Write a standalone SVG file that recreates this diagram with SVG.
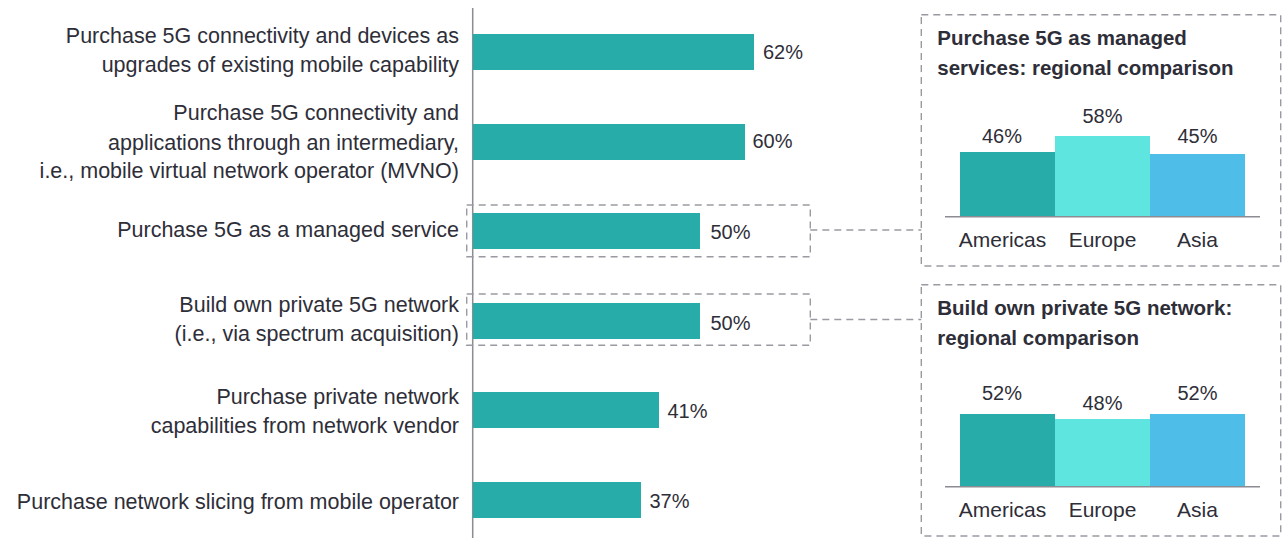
<svg xmlns="http://www.w3.org/2000/svg" width="1282" height="538" viewBox="0 0 1282 538">
<style>
text{font-family:"Liberation Sans",Arial,sans-serif;fill:#2e2e38}
.lbl{font-size:21.5px;text-anchor:end}
.val{font-size:20px}
.ttl{font-size:20.5px;font-weight:bold}
.cat{font-size:21px;text-anchor:middle}
.pct{font-size:20px;text-anchor:middle}
.bar{fill:#27aca9}
.am{fill:#27aca9}
.eu{fill:#5ee5df}
.as{fill:#4ebee8}
.dash{fill:none;stroke:#9a9aa2;stroke-width:1.4;stroke-dasharray:7 5}
.axis{stroke:#8c8c94;stroke-width:1.5}
</style>
<rect width="1282" height="538" fill="#ffffff"/>
<line class="axis" x1="472.7" y1="8" x2="472.7" y2="538"/>

<g id="row1">
<text class="lbl" x="459" y="43">Purchase 5G connectivity and devices as</text>
<text class="lbl" x="459" y="72">upgrades of existing mobile capability</text>
<rect class="bar" x="473" y="34" width="281" height="36"/>
<text class="val" x="763" y="59">62%</text>
</g>
<g id="row2">
<text class="lbl" x="459" y="120">Purchase 5G connectivity and</text>
<text class="lbl" x="459" y="149.5">applications through an intermediary,</text>
<text class="lbl" x="459" y="178">i.e., mobile virtual network operator (MVNO)</text>
<rect class="bar" x="473" y="124" width="272" height="36"/>
<text class="val" x="752.5" y="147.5">60%</text>
</g>
<g id="row3">
<text class="lbl" x="459" y="237">Purchase 5G as a managed service</text>
<rect class="dash" x="466.7" y="205" width="343.6" height="51.7"/>
<rect class="bar" x="473" y="213" width="227" height="36"/>
<text class="val" x="710.5" y="239">50%</text>
</g>
<g id="row4">
<text class="lbl" x="459" y="312">Build own private 5G network</text>
<text class="lbl" x="459" y="341">(i.e., via spectrum acquisition)</text>
<rect class="dash" x="466.7" y="294" width="343.6" height="51.3"/>
<rect class="bar" x="473" y="303" width="227" height="36"/>
<text class="val" x="710.5" y="329.5">50%</text>
</g>
<g id="row5">
<text class="lbl" x="459" y="404">Purchase private network</text>
<text class="lbl" x="459" y="433">capabilities from network vendor</text>
<rect class="bar" x="473" y="392" width="186" height="36"/>
<text class="val" x="667.5" y="418">41%</text>
</g>
<g id="row6">
<text class="lbl" x="459" y="508.5">Purchase network slicing from mobile operator</text>
<rect class="bar" x="473" y="482" width="168" height="36"/>
<text class="val" x="649.5" y="507.5">37%</text>
</g>

<g id="connectors">
<line class="dash" x1="810.3" y1="230" x2="921.3" y2="230"/>
<line class="dash" x1="810.3" y1="319.5" x2="921.3" y2="319.5"/>
</g>

<g id="panel-managed">
<rect class="dash" x="921.3" y="14.7" width="359.4" height="251.3"/>
<text class="ttl" x="937.3" y="45">Purchase 5G as managed</text>
<text class="ttl" x="937.3" y="75">services: regional comparison</text>
<rect class="am" x="960" y="152" width="95" height="64.7"/>
<rect class="eu" x="1055" y="136" width="95" height="80.7"/>
<rect class="as" x="1150" y="154" width="95" height="62.7"/>
<line class="axis" x1="945" y1="216.7" x2="1260" y2="216.7"/>
<text class="pct" x="1002" y="142.7">46%</text>
<text class="pct" x="1102.5" y="123.3">58%</text>
<text class="pct" x="1197.5" y="143.3">45%</text>
<text class="cat" x="1002.5" y="246.7">Americas</text>
<text class="cat" x="1102.5" y="246.7">Europe</text>
<text class="cat" x="1197.5" y="246.7">Asia</text>
</g>

<g id="panel-private">
<rect class="dash" x="921.3" y="284.7" width="359.4" height="251.3"/>
<text class="ttl" x="937.3" y="315">Build own private 5G network:</text>
<text class="ttl" x="937.3" y="345">regional comparison</text>
<rect class="am" x="960" y="414" width="95" height="72.7"/>
<rect class="eu" x="1055" y="419" width="95" height="67.7"/>
<rect class="as" x="1150" y="414" width="95" height="72.7"/>
<line class="axis" x1="945" y1="486.7" x2="1260" y2="486.7"/>
<text class="pct" x="1002" y="400">52%</text>
<text class="pct" x="1102.5" y="410">48%</text>
<text class="pct" x="1197.5" y="400">52%</text>
<text class="cat" x="1002.5" y="516.7">Americas</text>
<text class="cat" x="1102.5" y="516.7">Europe</text>
<text class="cat" x="1197.5" y="516.7">Asia</text>
</g>
</svg>
